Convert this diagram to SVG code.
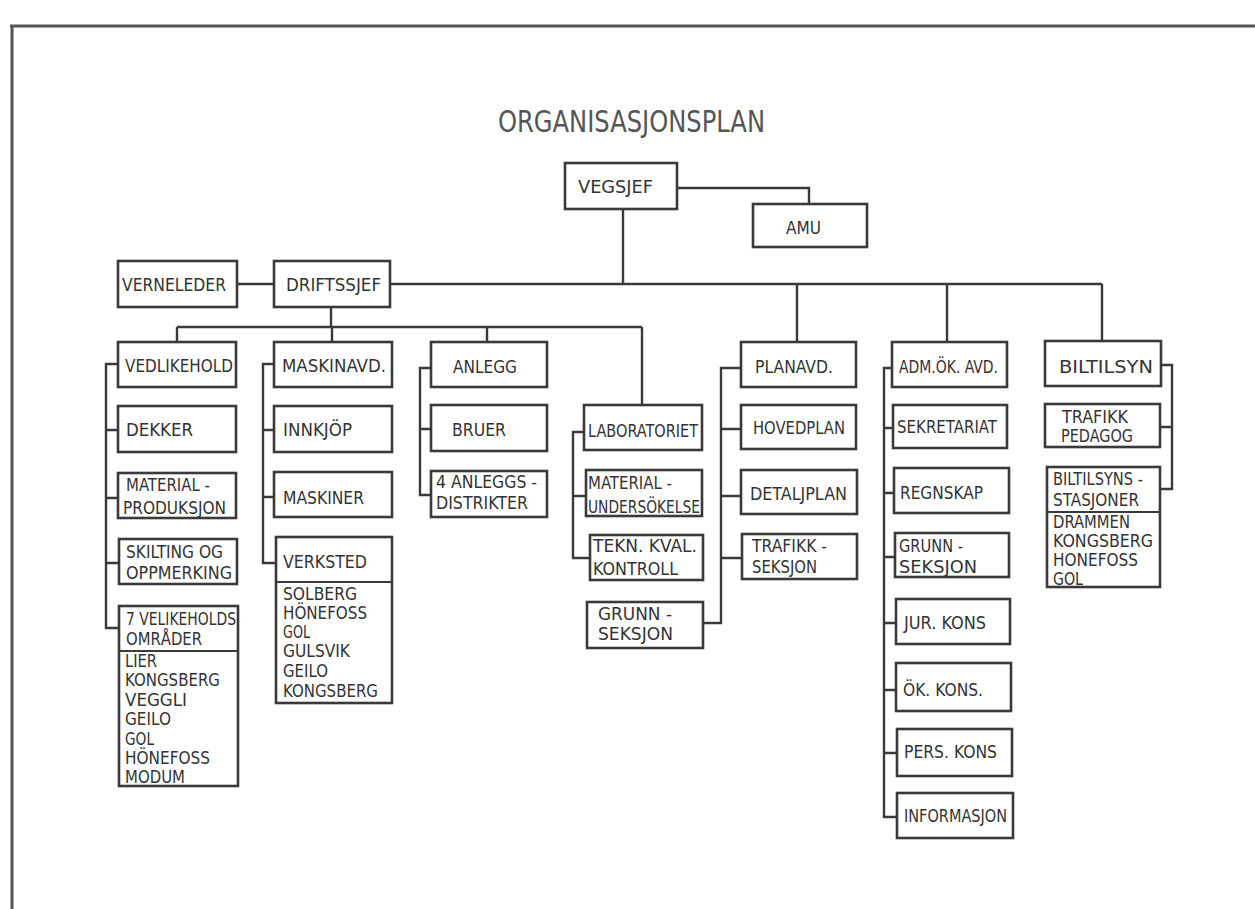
<svg xmlns="http://www.w3.org/2000/svg" width="1255" height="909" viewBox="0 0 1255 909">
<style>
.b{fill:#fff;stroke:#3a3a3a;stroke-width:2.6}
.d{stroke:#3a3a3a;stroke-width:2.2}
.c{fill:none;stroke:#3a3a3a;stroke-width:2.4}
.f{fill:none;stroke:#555;stroke-width:3}
text{font-family:"DejaVu Sans Condensed","DejaVu Sans",sans-serif;fill:#333;font-size:18px}
.l{font-size:17px}
.ti{font-size:30px;font-weight:300;fill:#555}
</style>
<rect width="1255" height="909" fill="#fff"/>
<g id="frame"><path class="f" d="M10,26 H1255 M12,26 V909"/></g>
<g id="title"><text class="ti" x="498" y="132" textLength="267" lengthAdjust="spacingAndGlyphs">ORGANISASJONSPLAN</text></g>
<g id="connectors">
<path class="c" d="M677,188 H809 V204 M623,209 V284 M237,284 H274 M390,284 H1102 M797,284 V342 M947,284 V342 M1102,284 V341 M331,307 V327 M177,327 H642 M177,327 V342 M332,327 V342 M487,327 V342 M642,327 V405"/>
<path class="c" d="M118,364 H106 V628 H119 M106,430 H118 M106,498 H118 M106,563 H119"/>
<path class="c" d="M274,364 H263 V563 H276 M263,430 H274 M263,497 H274"/>
<path class="c" d="M431,368 H420 V495 H431 M420,429 H431"/>
<path class="c" d="M584,432 H573 V558 H590 M573,496 H586"/>
<path class="c" d="M741,368 H721 V623 H703 M721,429 H741 M721,496 H741 M721,558 H742"/>
<path class="c" d="M892,368 H884 V817 H897 M884,428 H893 M884,493 H894 M884,557 H895 M884,623 H896 M884,690 H896 M884,753 H897"/>
<path class="c" d="M1161,365 H1172 V489 H1160 M1172,427 H1160"/>
</g>
<g id="vegsjef"><rect class="b" x="565" y="163" width="112" height="46"/><text x="578" y="193" textLength="75" lengthAdjust="spacingAndGlyphs">VEGSJEF</text></g>
<g id="amu"><rect class="b" x="753" y="204" width="114" height="43"/><text x="786" y="234" textLength="35" lengthAdjust="spacingAndGlyphs">AMU</text></g>
<g id="verneleder"><rect class="b" x="118" y="261" width="119" height="46"/><text x="122" y="291" textLength="104" lengthAdjust="spacingAndGlyphs">VERNELEDER</text></g>
<g id="driftssjef"><rect class="b" x="274" y="261" width="116" height="46"/><text x="286" y="291" textLength="95" lengthAdjust="spacingAndGlyphs">DRIFTSSJEF</text></g>
<g id="vedlikehold"><rect class="b" x="118" y="342" width="118" height="45"/><text x="125" y="372" textLength="108" lengthAdjust="spacingAndGlyphs">VEDLIKEHOLD</text></g>
<g id="dekker"><rect class="b" x="118" y="406" width="118" height="46"/><text x="126" y="436" textLength="67" lengthAdjust="spacingAndGlyphs">DEKKER</text></g>
<g id="materialproduksjon"><rect class="b" x="118" y="473" width="118" height="45"/><text x="126" y="491" textLength="84" lengthAdjust="spacingAndGlyphs">MATERIAL -</text><text x="123" y="514" textLength="103" lengthAdjust="spacingAndGlyphs">PRODUKSJON</text></g>
<g id="skilting"><rect class="b" x="119" y="539" width="118" height="45"/><text x="126" y="558" textLength="97" lengthAdjust="spacingAndGlyphs">SKILTING OG</text><text x="126" y="579" textLength="106" lengthAdjust="spacingAndGlyphs">OPPMERKING</text></g>
<g id="vedlikeholdsomrader"><rect class="b" x="119" y="606" width="119" height="180"/><line class="d" x1="119" y1="651" x2="238" y2="651"/>
<text x="126" y="625" textLength="110" lengthAdjust="spacingAndGlyphs">7 VELIKEHOLDS</text><text x="126" y="645" textLength="76" lengthAdjust="spacingAndGlyphs">OMRÅDER</text>
<text class="l" x="125" y="667" textLength="32" lengthAdjust="spacingAndGlyphs">LIER</text>
<text class="l" x="125" y="686" textLength="95" lengthAdjust="spacingAndGlyphs">KONGSBERG</text>
<text class="l" x="125" y="706" textLength="62" lengthAdjust="spacingAndGlyphs">VEGGLI</text>
<text class="l" x="125" y="725" textLength="46" lengthAdjust="spacingAndGlyphs">GEILO</text>
<text class="l" x="125" y="745" textLength="29" lengthAdjust="spacingAndGlyphs">GOL</text>
<text class="l" x="125" y="764" textLength="85" lengthAdjust="spacingAndGlyphs">HÖNEFOSS</text>
<text class="l" x="125" y="783" textLength="60" lengthAdjust="spacingAndGlyphs">MODUM</text></g>
<g id="maskinavd"><rect class="b" x="274" y="342" width="118" height="45"/><text x="282" y="372" textLength="104" lengthAdjust="spacingAndGlyphs">MASKINAVD.</text></g>
<g id="innkjop"><rect class="b" x="274" y="406" width="118" height="46"/><text x="283" y="436" textLength="69" lengthAdjust="spacingAndGlyphs">INNKJÖP</text></g>
<g id="maskiner"><rect class="b" x="274" y="472" width="118" height="45"/><text x="283" y="504" textLength="81" lengthAdjust="spacingAndGlyphs">MASKINER</text></g>
<g id="verksted"><rect class="b" x="276" y="537" width="116" height="166"/><line class="d" x1="276" y1="582" x2="392" y2="582"/>
<text x="283" y="568" textLength="84" lengthAdjust="spacingAndGlyphs">VERKSTED</text>
<text class="l" x="283" y="600" textLength="74" lengthAdjust="spacingAndGlyphs">SOLBERG</text>
<text class="l" x="283" y="619" textLength="84" lengthAdjust="spacingAndGlyphs">HÖNEFOSS</text>
<text class="l" x="283" y="638" textLength="27" lengthAdjust="spacingAndGlyphs">GOL</text>
<text class="l" x="283" y="657" textLength="67" lengthAdjust="spacingAndGlyphs">GULSVIK</text>
<text class="l" x="283" y="677" textLength="45" lengthAdjust="spacingAndGlyphs">GEILO</text>
<text class="l" x="283" y="697" textLength="95" lengthAdjust="spacingAndGlyphs">KONGSBERG</text></g>
<g id="anlegg"><rect class="b" x="431" y="342" width="116" height="45"/><text x="453" y="373" textLength="64" lengthAdjust="spacingAndGlyphs">ANLEGG</text></g>
<g id="bruer"><rect class="b" x="431" y="405" width="116" height="46"/><text x="452" y="436" textLength="54" lengthAdjust="spacingAndGlyphs">BRUER</text></g>
<g id="anleggsdistrikter"><rect class="b" x="431" y="471" width="116" height="46"/><text x="436" y="488" textLength="101" lengthAdjust="spacingAndGlyphs">4 ANLEGGS -</text><text x="436" y="509" textLength="92" lengthAdjust="spacingAndGlyphs">DISTRIKTER</text></g>
<g id="laboratoriet"><rect class="b" x="584" y="405" width="118" height="45"/><text x="588" y="437" textLength="110" lengthAdjust="spacingAndGlyphs">LABORATORIET</text></g>
<g id="materialundersokelse"><rect class="b" x="586" y="470" width="116" height="46"/><text x="588" y="489" textLength="84" lengthAdjust="spacingAndGlyphs">MATERIAL -</text><text x="588" y="513" textLength="112" lengthAdjust="spacingAndGlyphs">UNDERSÖKELSE</text></g>
<g id="teknkvalkontroll"><rect class="b" x="590" y="535" width="113" height="45"/><text x="593" y="552" textLength="104" lengthAdjust="spacingAndGlyphs">TEKN. KVAL.</text><text x="593" y="575" textLength="85" lengthAdjust="spacingAndGlyphs">KONTROLL</text></g>
<g id="grunnseksjon1"><rect class="b" x="587" y="602" width="116" height="46"/><text x="598" y="620" textLength="74" lengthAdjust="spacingAndGlyphs">GRUNN -</text><text x="598" y="640" textLength="75" lengthAdjust="spacingAndGlyphs">SEKSJON</text></g>
<g id="planavd"><rect class="b" x="741" y="342" width="115" height="45"/><text x="755" y="373" textLength="78" lengthAdjust="spacingAndGlyphs">PLANAVD.</text></g>
<g id="hovedplan"><rect class="b" x="741" y="405" width="115" height="44"/><text x="753" y="434" textLength="92" lengthAdjust="spacingAndGlyphs">HOVEDPLAN</text></g>
<g id="detaljplan"><rect class="b" x="741" y="470" width="116" height="44"/><text x="750" y="500" textLength="97" lengthAdjust="spacingAndGlyphs">DETALJPLAN</text></g>
<g id="trafikkseksjon"><rect class="b" x="742" y="534" width="115" height="45"/><text x="752" y="552" textLength="75" lengthAdjust="spacingAndGlyphs">TRAFIKK -</text><text x="752" y="573" textLength="65" lengthAdjust="spacingAndGlyphs">SEKSJON</text></g>
<g id="admokavd"><rect class="b" x="892" y="342" width="115" height="45"/><text x="899" y="373" textLength="99" lengthAdjust="spacingAndGlyphs">ADM.ÖK. AVD.</text></g>
<g id="sekretariat"><rect class="b" x="893" y="405" width="114" height="43"/><text x="897" y="433" textLength="100" lengthAdjust="spacingAndGlyphs">SEKRETARIAT</text></g>
<g id="regnskap"><rect class="b" x="894" y="468" width="115" height="45"/><text x="900" y="499" textLength="83" lengthAdjust="spacingAndGlyphs">REGNSKAP</text></g>
<g id="grunnseksjon2"><rect class="b" x="895" y="533" width="114" height="44"/><text x="899" y="552" textLength="64" lengthAdjust="spacingAndGlyphs">GRUNN -</text><text x="899" y="573" textLength="78" lengthAdjust="spacingAndGlyphs">SEKSJON</text></g>
<g id="jurkons"><rect class="b" x="896" y="599" width="114" height="45"/><text x="904" y="629" textLength="82" lengthAdjust="spacingAndGlyphs">JUR. KONS</text></g>
<g id="okkons"><rect class="b" x="896" y="663" width="115" height="48"/><text x="903" y="696" textLength="80" lengthAdjust="spacingAndGlyphs">ÖK. KONS.</text></g>
<g id="perskons"><rect class="b" x="897" y="729" width="115" height="47"/><text x="904" y="758" textLength="93" lengthAdjust="spacingAndGlyphs">PERS. KONS</text></g>
<g id="informasjon"><rect class="b" x="897" y="793" width="116" height="45"/><text x="904" y="822" textLength="103" lengthAdjust="spacingAndGlyphs">INFORMASJON</text></g>
<g id="biltilsyn"><rect class="b" x="1045" y="341" width="116" height="45"/><text x="1059" y="373" textLength="94" lengthAdjust="spacingAndGlyphs">BILTILSYN</text></g>
<g id="trafikkpedagog"><rect class="b" x="1045" y="404" width="115" height="43"/><text x="1062" y="423" textLength="66" lengthAdjust="spacingAndGlyphs">TRAFIKK</text><text x="1061" y="442" textLength="72" lengthAdjust="spacingAndGlyphs">PEDAGOG</text></g>
<g id="biltilsynsstasjoner"><rect class="b" x="1047" y="467" width="113" height="120"/><line class="d" x1="1047" y1="512" x2="1160" y2="512"/>
<text x="1053" y="485" textLength="90" lengthAdjust="spacingAndGlyphs">BILTILSYNS -</text><text x="1053" y="506" textLength="86" lengthAdjust="spacingAndGlyphs">STASJONER</text>
<text class="l" x="1053" y="528" textLength="77" lengthAdjust="spacingAndGlyphs">DRAMMEN</text>
<text class="l" x="1053" y="547" textLength="100" lengthAdjust="spacingAndGlyphs">KONGSBERG</text>
<text class="l" x="1053" y="566" textLength="85" lengthAdjust="spacingAndGlyphs">HONEFOSS</text>
<text class="l" x="1053" y="585" textLength="30" lengthAdjust="spacingAndGlyphs">GOL</text></g>
</svg>
